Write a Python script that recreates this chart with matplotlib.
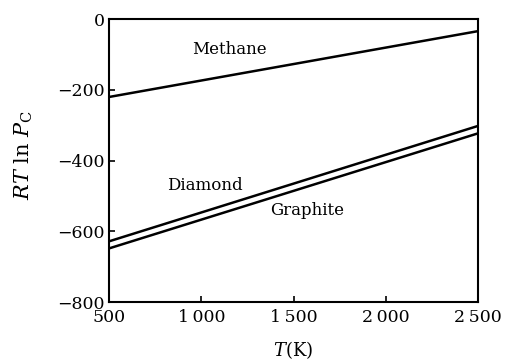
import numpy as np
import matplotlib.pyplot as plt

plt.rcParams['font.family'] = ['DejaVu Serif']
plt.rcParams['mathtext.fontset'] = 'dejavuserif'

# temperatures (K) at the ends of each straight line
temps = [500, 2500]
methane = [-220, -34]
diamond = [-628, -302]
graphite = [-648, -323]

x_ticks = [500, 1000, 1500, 2000, 2500]
x_tick_labels = ['500', '1\u2009000', '1\u2009500', '2\u2009000', '2\u2009500']
y_ticks = [0, -200, -400, -600, -800]
y_tick_labels = ['0', '\u2212200', '\u2212400', '\u2212600', '\u2212800']


def main():
    fig = plt.figure(figsize=(5.1, 3.61), dpi=100)
    ax = fig.add_axes([0.214, 0.163, 0.723, 0.784])

    for ys in (methane, diamond, graphite):
        ax.plot(temps, ys, color='black', lw=1.8)

    ax.set_xlim(500, 2500)
    ax.set_ylim(-800, 0)
    ax.set_xticks(x_ticks)
    ax.set_xticklabels(x_tick_labels)
    ax.set_yticks(y_ticks)
    ax.set_yticklabels(y_tick_labels)
    ax.tick_params(direction='in', length=4, width=1.2, labelsize=12.5, pad=3)
    ax.tick_params(axis='x', pad=5)
    for s in ax.spines.values():
        s.set_linewidth(1.5)

    ax.text(1150, -85, 'Methane', fontsize=12, ha='center', va='center')
    ax.text(1020, -470, 'Diamond', fontsize=12, ha='center', va='center')
    ax.text(1575, -541, 'Graphite', fontsize=12, ha='center', va='center')

    ax.set_xlabel(r'$T$(K)', fontsize=13)
    ax.xaxis.set_label_coords(0.5, -0.13)
    ax.set_ylabel(r'$RT\ \mathrm{ln}\ P_\mathrm{C}$', fontsize=15)
    ax.yaxis.set_label_coords(-0.2, 0.52)

    fig.savefig('out.png', dpi=100)


if __name__ == '__main__':
    main()
